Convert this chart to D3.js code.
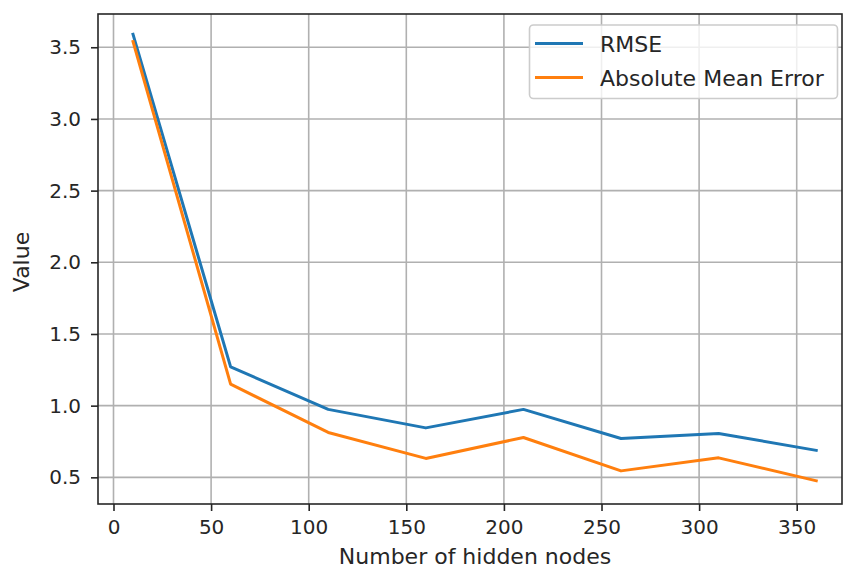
<!DOCTYPE html>
<html>
<head>
<meta charset="utf-8">
<script src="https://cdn.jsdelivr.net/npm/d3@7"></script>
<style>
  html, body { margin: 0; padding: 0; background: #fff; }
  svg { display: block; font-family: "DejaVu Sans", sans-serif; }
</style>
</head>
<body>
<svg id="chart" width="844" height="569"></svg>
<script>
// Error metrics against the number of hidden nodes
const hiddenNodes = [10, 60, 110, 160, 210, 260, 310, 360];
const rmse = [3.59, 1.27, 0.974, 0.845, 0.974, 0.771, 0.806, 0.688];
const absMeanError = [3.54, 1.15, 0.813, 0.632, 0.778, 0.545, 0.636, 0.476];
const seriesNames = ["RMSE", "Absolute Mean Error"];
const seriesColors = ["#1f77b4", "#ff7f0e"];
const xTicks = [0, 50, 100, 150, 200, 250, 300, 350];
const yTicks = [0.5, 1.0, 1.5, 2.0, 2.5, 3.0, 3.5];
const xTitle = "Number of hidden nodes";
const yTitle = "Value";

const box = { left: 98, right: 842, top: 14, bottom: 504 };
const svg = d3.select("#chart");

const x = d3.scaleLinear().domain([-7.94, 373.2]).range([box.left, box.right]);
const y = d3.scaleLinear().domain([0.314, 3.732]).range([box.bottom, box.top]);

const textColor = "#262626";
const gridColor = "#b0b0b0";

// grid
const grid = svg.append("g");
grid.selectAll("line.vx").data(xTicks).join("line")
  .attr("x1", d => x(d)).attr("x2", d => x(d))
  .attr("y1", box.top).attr("y2", box.bottom)
  .attr("stroke", gridColor).attr("stroke-width", 1.6);
grid.selectAll("line.hy").data(yTicks).join("line")
  .attr("y1", d => y(d)).attr("y2", d => y(d))
  .attr("x1", box.left).attr("x2", box.right)
  .attr("stroke", gridColor).attr("stroke-width", 1.6);

// series lines
const series = [rmse, absMeanError];
const line = d3.line().x((d, i) => x(hiddenNodes[i])).y(d => y(d));
svg.append("g").selectAll("path").data(series).join("path")
  .attr("d", d => line(d))
  .attr("fill", "none")
  .attr("stroke", (d, i) => seriesColors[i])
  .attr("stroke-width", 3)
  .attr("stroke-linejoin", "round")
  .attr("stroke-linecap", "square");

// axes via d3 axis generators
const xAxis = d3.axisBottom(x).tickValues(xTicks).tickFormat(d3.format("d"))
  .tickSize(7).tickPadding(9);
const yAxis = d3.axisLeft(y).tickValues(yTicks).tickFormat(d3.format(".1f"))
  .tickSize(7).tickPadding(10);

const gx = svg.append("g").attr("transform", `translate(0,${box.bottom})`).call(xAxis);
const gy = svg.append("g").attr("transform", `translate(${box.left},0)`).call(yAxis);
[gx, gy].forEach(g => {
  g.select(".domain").remove();
  g.selectAll(".tick line").attr("stroke", textColor).attr("stroke-width", 1.6);
  g.selectAll(".tick text").attr("fill", textColor)
    .style("font-family", "DejaVu Sans").style("font-size", "20px");
});

// frame
svg.append("rect")
  .attr("x", box.left).attr("y", box.top)
  .attr("width", box.right - box.left).attr("height", box.bottom - box.top)
  .attr("fill", "none").attr("stroke", textColor).attr("stroke-width", 1.6);

// titles
svg.append("text")
  .attr("x", 475).attr("y", 563.5)
  .attr("text-anchor", "middle")
  .attr("fill", textColor).style("font-size", "22px")
  .text(xTitle);
svg.append("text")
  .attr("transform", "translate(29,262) rotate(-90)")
  .attr("text-anchor", "middle")
  .attr("fill", textColor).style("font-size", "22px")
  .text(yTitle);

// legend
const legend = svg.append("g");
legend.append("rect")
  .attr("x", 529.5).attr("y", 25).attr("width", 308).attr("height", 73.5)
  .attr("rx", 4).attr("ry", 4)
  .attr("fill", "#fff").attr("fill-opacity", 0.8)
  .attr("stroke", "#cccccc").attr("stroke-width", 1.6);
const legendRowY = [43.5, 77.5];
seriesNames.forEach((name, i) => {
  legend.append("line")
    .attr("x1", 535).attr("x2", 583)
    .attr("y1", legendRowY[i]).attr("y2", legendRowY[i])
    .attr("stroke", seriesColors[i]).attr("stroke-width", 3);
  legend.append("text")
    .attr("x", 600).attr("y", legendRowY[i] + 8)
    .attr("fill", textColor).style("font-size", "22px")
    .text(name);
});
</script>
</body>
</html>
